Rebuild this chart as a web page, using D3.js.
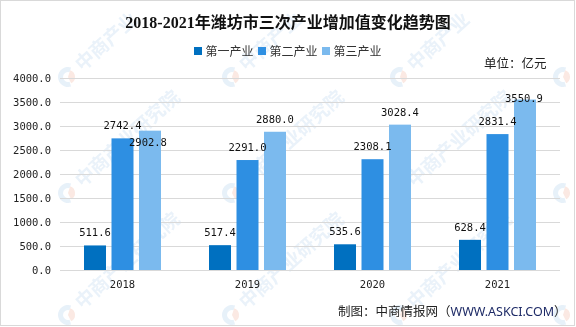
<!DOCTYPE html>
<html><head><meta charset="utf-8">
<script src="https://cdn.jsdelivr.net/npm/d3@7"></script>
<style>
html,body{margin:0;padding:0;background:#fff;}
svg{display:block;}
</style></head>
<body>
<script>
// ---- data ----
const years = ["2018", "2019", "2020", "2021"];
const seriesNames = ["第一产业", "第二产业", "第三产业"];
const primary = [511.6, 517.4, 535.6, 628.4];
const secondary = [2742.4, 2291.0, 2308.1, 2831.4];
const tertiary = [2902.8, 2880.0, 3028.4, 3550.9];
const yTicks = [0, 500, 1000, 1500, 2000, 2500, 3000, 3500, 4000];
const titleText = "2018-2021年潍坊市三次产业增加值变化趋势图";
const unitText = "单位：亿元";
const sourceText = "制图：中商情报网（";
const sourceUrl = "WWW.ASKCI.COM";
const sourceEnd = "）";
const watermarkText = "中商产业研究院";

const colors = ["#0070C0", "#2E8FE2", "#7BBAEE"];
const seriesValues = [primary, secondary, tertiary];

const W = 576, H = 327;
const svg = d3.select("body").append("svg").attr("width", W).attr("height", H);

// border
svg.append("rect").attr("x", 0.5).attr("y", 0.5).attr("width", W - 2).attr("height", H - 2)
  .attr("fill", "#fff").attr("stroke", "#d9d9d9");

// watermarks (faint background)
const wm = svg.append("g").attr("opacity", 0.5);
const wmX = [68, 232, 400, 563], wmY = [77, 193, 315];
wmY.forEach((yy, r) => wmX.forEach(xx => {
  const g = wm.append("g").attr("transform", `translate(${xx},${yy})`);
  g.append("path").attr("d", d3.arc()({innerRadius: 5, outerRadius: 10, startAngle: Math.PI * 0.9, endAngle: Math.PI * 2.1}))
    .attr("fill", "#cfe2f3");
  g.append("path").attr("d", d3.arc()({innerRadius: 0, outerRadius: 7, startAngle: Math.PI * 0.1, endAngle: Math.PI * 0.85}))
    .attr("fill", "#f6d3c6");
  if (xx < 500) {
    g.append("text").attr("transform", "rotate(-42) translate(14,6)")
      .attr("font-family", "Noto Sans CJK SC").attr("font-weight", "bold").attr("font-size", 19)
      .attr("fill", "#d5e5f4").text(r > 0 ? watermarkText : watermarkText.slice(0, 4));
  }
}));

// scales
const x0 = d3.scaleBand().domain(years).range([60, 560]).paddingInner(0).paddingOuter(0);
const x1 = d3.scaleBand().domain(seriesNames).range([0, x0.bandwidth()]).paddingInner(0.2).paddingOuter(0.873);
const y = d3.scaleLinear().domain([0, 4000]).range([270, 78]);

// gridlines
svg.append("g").selectAll("line").data(yTicks).join("line")
  .attr("x1", 60).attr("x2", 560)
  .attr("y1", d => Math.round(y(d)) + 0.5).attr("y2", d => Math.round(y(d)) + 0.5)
  .attr("stroke", "#d9d9d9").attr("stroke-width", 1);

// y axis labels
const yAxis = d3.axisLeft(y).tickValues(yTicks).tickSize(0).tickPadding(0).tickFormat(d3.format(".1f"));
const yg = svg.append("g").attr("transform", "translate(51,0)").call(yAxis);
yg.select(".domain").remove();
yg.selectAll("text").attr("font-family", "DejaVu Sans Mono").attr("font-size", 10.5).attr("fill", "#222");

// x axis labels
const xAxis = d3.axisBottom(x0).tickSize(0).tickPadding(0);
const xg = svg.append("g").attr("transform", "translate(0,281)").call(xAxis);
xg.select(".domain").remove();
xg.selectAll("text").attr("font-family", "DejaVu Sans Mono").attr("font-size", 10.5).attr("fill", "#222");

// bars
const rows = [];
years.forEach((yr, i) => seriesNames.forEach((s, j) => rows.push({year: yr, series: s, si: j, value: seriesValues[j][i]})));

svg.append("g").selectAll("rect").data(rows).join("rect")
  .attr("x", d => x0(d.year) + x1(d.series))
  .attr("y", d => y(d.value))
  .attr("width", x1.bandwidth())
  .attr("height", d => y(0) - y(d.value))
  .attr("fill", d => colors[d.si]);

// value labels (a couple of labels were nudged in the original to avoid overlap)
const labelNudge = {"2018|第三产业": [-2, 24], "2021|第三产业": [-1, 11]};
svg.append("g").selectAll("text").data(rows).join("text")
  .attr("x", d => x0(d.year) + x1(d.series) + x1.bandwidth() / 2 + (labelNudge[d.year + "|" + d.series] || [0, 0])[0])
  .attr("y", d => y(d.value) - 9 + (labelNudge[d.year + "|" + d.series] || [0, 0])[1])
  .attr("text-anchor", "middle")
  .attr("font-family", "DejaVu Sans Mono").attr("font-size", 10.5).attr("fill", "#111")
  .text(d => d3.format(".1f")(d.value));

// title
svg.append("text").attr("x", 288).attr("y", 28).attr("text-anchor", "middle")
  .attr("font-family", "'Liberation Serif','Noto Sans CJK SC'").attr("font-weight", "bold").attr("font-size", 16)
  .attr("fill", "#111").text(titleText);

// legend
const lx = [194, 258, 322];
const leg = svg.append("g").selectAll("g").data(seriesNames).join("g")
  .attr("transform", (d, i) => `translate(${lx[i]},47)`);
leg.append("rect").attr("x", 0).attr("y", 0).attr("width", 8).attr("height", 8).attr("fill", (d, i) => colors[i]);
leg.append("text").attr("x", 11.5).attr("y", 9).attr("font-family", "Noto Sans CJK SC").attr("font-size", 12)
  .attr("fill", "#333").text(d => d);

// unit
svg.append("text").attr("x", 484).attr("y", 68).attr("font-family", "Noto Sans CJK SC").attr("font-size", 12.5)
  .attr("fill", "#222").text(unitText);

// source
const src = svg.append("text").attr("x", 338).attr("y", 316).attr("font-family", "Noto Sans CJK SC").attr("font-size", 12.5).attr("fill", "#222");
src.append("tspan").text(sourceText);
src.append("tspan").attr("fill", "#1d2a66").attr("font-family", "'Noto Sans','Noto Sans CJK SC'").text(sourceUrl);
src.append("tspan").text(sourceEnd);
</script>
</body></html>
